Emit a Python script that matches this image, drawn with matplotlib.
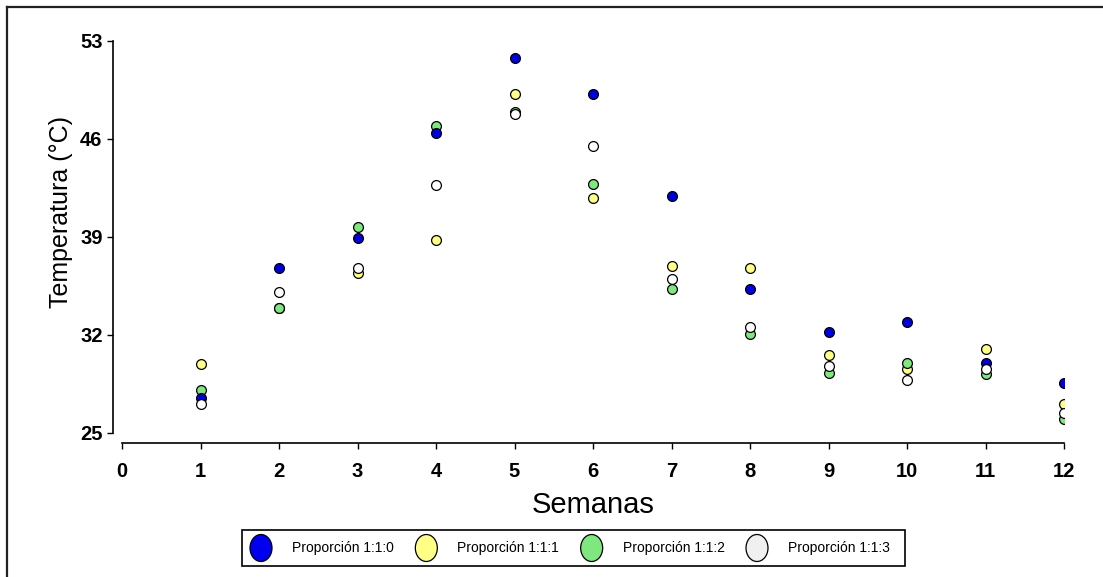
import matplotlib
matplotlib.use("Agg")
import matplotlib.pyplot as plt
from matplotlib.lines import Line2D
from matplotlib.patches import Rectangle, Ellipse
from matplotlib import font_manager

plt.rcParams['font.family'] = ['Liberation Sans', 'DejaVu Sans']

semanas = [1, 2, 3, 4, 5, 6, 7, 8, 9, 10, 11, 12]
p110 = [27.5, 36.8, 38.9, 46.4, 51.8, 49.2, 41.9, 35.3, 32.2, 32.9, 30.0, 28.6]
p111 = [29.9, 33.9, 36.4, 38.8, 49.2, 41.8, 36.9, 36.8, 30.6, 29.6, 31.0, 27.1]
p112 = [28.1, 33.9, 39.7, 46.9, 47.9, 42.8, 35.3, 32.1, 29.3, 30.0, 29.2, 26.0]
p113 = [27.1, 35.1, 36.8, 42.7, 47.8, 45.5, 36.0, 32.6, 29.8, 28.8, 29.6, 26.4]

# drawing order (back to front)
series = [
    ("Proporción 1:1:1", p111, "#ffff88"),
    ("Proporción 1:1:2", p112, "#80e680"),
    ("Proporción 1:1:0", p110, "#0000dd"),
    ("Proporción 1:1:3", p113, "#ffffff"),
]
legend_order = ["Proporción 1:1:0", "Proporción 1:1:1", "Proporción 1:1:2", "Proporción 1:1:3"]
legend_colors = ["#0000ee", "#ffff88", "#80e680", "#f0f0f0"]

yticks = [25, 32, 39, 46, 53]
xticks = list(range(0, 13))

W, H = 1103, 577
fig = plt.figure(figsize=(W / 100, H / 100), dpi=100)
ax = fig.add_axes([122 / W, 1 - 433 / H, (1064 - 122) / W, (433 - 41) / H])

ax.spines["top"].set_visible(False)
ax.spines["right"].set_visible(False)
ax.spines["left"].set_position(("outward", 6.5))
ax.spines["bottom"].set_position(("outward", 7.2))
for s in ("left", "bottom"):
    ax.spines[s].set_linewidth(1.2)

for name, vals, col in series:
    ax.scatter(semanas, vals, s=50, c=col, edgecolors="black", linewidths=0.9, zorder=3)

ax.set_xlim(0, 12)
ax.set_ylim(25, 53)
ax.set_xticks(xticks)
ax.set_yticks(yticks)
ax.tick_params(axis="both", direction="out", length=4.5, width=1.0, labelsize=14.5)
ax.tick_params(axis="y", pad=3)
ax.tick_params(axis="x", pad=9)
for lab in ax.get_xticklabels() + ax.get_yticklabels():
    lab.set_fontweight("bold")

fig.text(61 / W, 1 - 212 / H, "Temperatura (°C)", rotation=90, fontsize=18,
         ha="center", va="center")
fig.text(593 / W, 1 - 505 / H, "Semanas", fontsize=21, ha="center", va="center")

# legend box
def fx(x):
    return x / W

def fy(y):
    return 1 - y / H

fig.add_artist(Rectangle((fx(241.7), fy(566.3)), (905 - 241.7) / W, (566.3 - 529.7) / H,
                         transform=fig.transFigure, facecolor="white", edgecolor="black",
                         lw=1.2))
avail = [f.name for f in font_manager.fontManager.ttflist]
legfont = ['Liberation Sans Narrow', 'Liberation Sans'] if 'Liberation Sans Narrow' in avail else ['Liberation Sans']
legsize = 12 if 'Liberation Sans Narrow' in avail else 10
step = (757 - 261) / 3.0
for i, (name, col) in enumerate(zip(legend_order, legend_colors)):
    cx = 261 + i * step
    fig.add_artist(Ellipse((fx(cx), fy(548)), 22 / W, 27 / H, transform=fig.transFigure,
                           facecolor=col, edgecolor="black", lw=0.9))
    fig.text(fx(cx + 31), fy(548), name, fontsize=legsize, family=legfont,
             ha="left", va="center")

fig.add_artist(Line2D([6.5 / W, 1], [1 - 6.5 / H, 1 - 6.5 / H], color="#222222", lw=1.6,
                      transform=fig.transFigure))
fig.add_artist(Line2D([6.5 / W, 6.5 / W], [1 - 6.5 / H, 0], color="#222222", lw=1.6,
                      transform=fig.transFigure))

fig.savefig("out.png", dpi=100)
